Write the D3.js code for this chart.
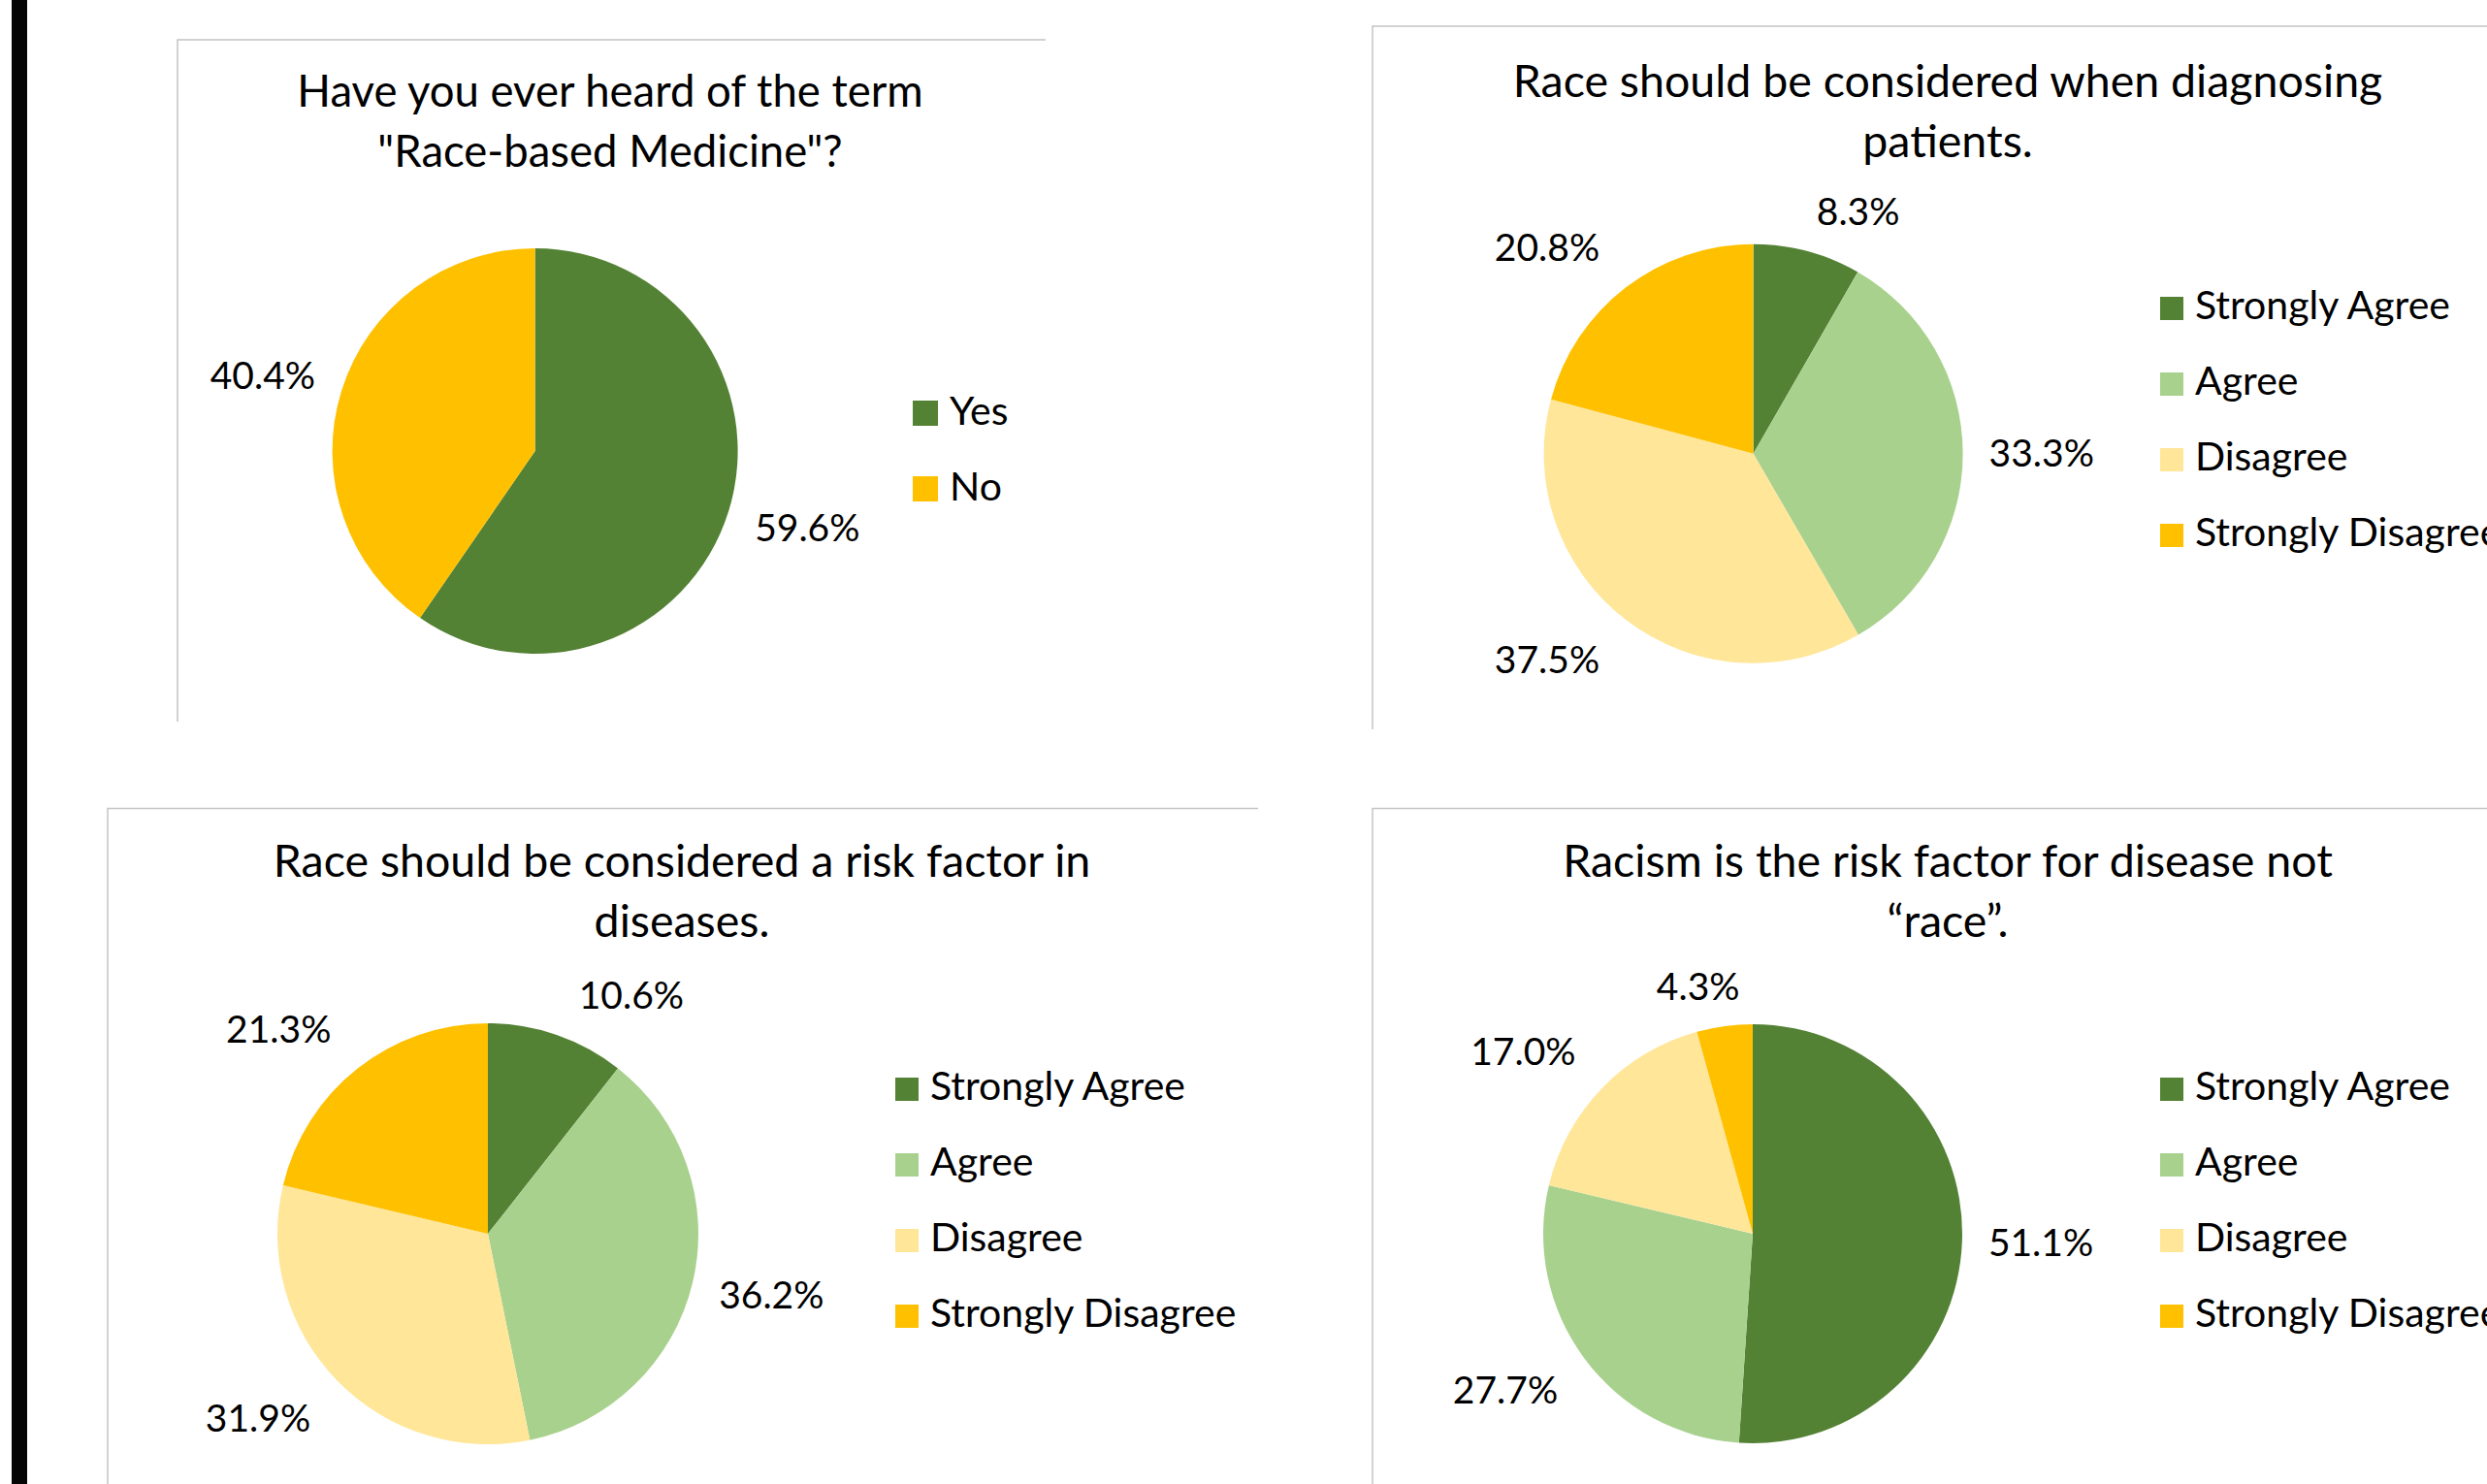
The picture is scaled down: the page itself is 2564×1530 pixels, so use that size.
<!DOCTYPE html>
<html>
<head>
<meta charset="utf-8">
<script src="https://cdn.jsdelivr.net/npm/d3@7"></script>
<style>
  html, body { margin: 0; padding: 0; background: #ffffff; }
  svg { display: block; }
</style>
</head>
<body>
<svg id="chart" width="2564" height="1530"></svg>
<script>
// Survey responses (percent of respondents)
const yesNoCategories = ["Yes", "No"];
const heardTermValues = [59.6, 40.4];

const agreementCategories = ["Strongly Agree", "Agree", "Disagree", "Strongly Disagree"];
const diagnosingValues = [8.3, 33.3, 37.5, 20.8];
const riskFactorValues = [10.6, 36.2, 31.9, 21.3];
const racismValues = [51.1, 27.7, 17.0, 4.3];

const heardTermTitle = ["Have you ever heard of the term", "\"Race-based Medicine\"?"];
const diagnosingTitle = ["Race should be considered when diagnosing", "patients."];
const riskFactorTitle = ["Race should be considered a risk factor in", "diseases."];
const racismTitle = ["Racism is the risk factor for disease not", "\u201Crace\u201D."];

const yesNoColors = ["#548235", "#FFC000"];
const agreementColors = ["#548235", "#A9D18E", "#FFE699", "#FFC000"];

// Page layout for the four charts
const W = 2564, H = 1530;
const FONT = "Lato, 'Open Sans', sans-serif";
const labelSize = 39, legendSize = 41, titleLineGap = 62;

const panels = [
  { title: heardTermTitle, categories: yesNoCategories, values: heardTermValues, colors: yesNoColors,
    frame: { x: 183, y: 41, right: 1078, bottom: 744 },
    titleSize: 45.5, titleX: 629, titleY: 110, cx: 551.6, cy: 465, r: 209,
    legendX: 941, legendY: 413, swatch: 26 },
  { title: diagnosingTitle, categories: agreementCategories, values: diagnosingValues, colors: agreementColors,
    frame: { x: 1415, y: 27, right: W, bottom: 752 },
    titleSize: 46.5, titleX: 2008, titleY: 100, cx: 1807.6, cy: 467.7, r: 216,
    legendX: 2227, legendY: 306, swatch: 24 },
  { title: riskFactorTitle, categories: agreementCategories, values: riskFactorValues, colors: agreementColors,
    frame: { x: 111, y: 833.5, right: 1297, bottom: H },
    titleSize: 46.5, titleX: 703, titleY: 904, cx: 503, cy: 1272, r: 217,
    legendX: 923, legendY: 1111, swatch: 24 },
  { title: racismTitle, categories: agreementCategories, values: racismValues, colors: agreementColors,
    frame: { x: 1415, y: 833.5, right: W, bottom: H },
    titleSize: 46.5, titleX: 2008, titleY: 904, cx: 1807, cy: 1272, r: 216,
    legendX: 2227, legendY: 1111, swatch: 24 }
];

const svg = d3.select("#chart");
svg.append("rect").attr("width", W).attr("height", H).attr("fill", "#ffffff");

// Dark bar along the left edge of the page
svg.append("rect").attr("x", 12).attr("y", 0).attr("width", 16).attr("height", H).attr("fill", "#050505");

const pie = d3.pie().sort(null).value(d => d.value);
const clamp = v => Math.max(-1, Math.min(1, v));

panels.forEach(p => {
  const g = svg.append("g");

  // Chart area outline (top and left edges)
  g.append("path")
    .attr("d", `M${p.frame.x},${p.frame.bottom}V${p.frame.y}H${p.frame.right}`)
    .attr("fill", "none").attr("stroke", "#c4c4c4").attr("stroke-width", 1.5);

  // Two-line title
  const title = g.append("text")
    .attr("x", p.titleX).attr("y", p.titleY)
    .attr("text-anchor", "middle")
    .attr("font-family", FONT).attr("font-size", p.titleSize).attr("fill", "#000");
  p.title.forEach((line, i) => {
    title.append("tspan").attr("x", p.titleX).attr("dy", i === 0 ? 0 : titleLineGap).text(line);
  });

  const data = p.categories.map((c, i) => ({ category: c, value: p.values[i], color: p.colors[i] }));
  const arcs = pie(data);
  const arc = d3.arc().innerRadius(0).outerRadius(p.r);

  const pg = g.append("g").attr("transform", `translate(${p.cx},${p.cy})`);
  pg.selectAll("path.slice").data(arcs).join("path")
    .attr("class", "slice")
    .attr("d", arc)
    .attr("fill", d => d.data.color);

  // Percentage labels placed just outside each slice, pushed away from the rim
  pg.selectAll("text.pct").data(arcs).join("text")
    .attr("class", "pct")
    .attr("text-anchor", "middle")
    .attr("font-family", FONT).attr("font-size", labelSize).attr("fill", "#000")
    .text(d => d.data.value.toFixed(1) + "%")
    .each(function (d) {
      const a = (d.startAngle + d.endAngle) / 2;
      const ux = Math.sin(a), uy = -Math.cos(a);
      const halfW = this.getComputedTextLength() / 2;
      const x = p.r * ux + (halfW + 27) * clamp(2.9 * ux);
      const y = p.r * uy + 41 * clamp(1.35 * uy);
      d3.select(this).attr("x", x).attr("y", y).attr("dy", "0.36em");
    });

  // Legend
  const lg = g.append("g").attr("transform", `translate(${p.legendX},${p.legendY})`);
  const rows = lg.selectAll("g.row").data(data).join("g")
    .attr("class", "row")
    .attr("transform", (d, i) => `translate(0,${i * 78})`);
  rows.append("rect").attr("width", p.swatch).attr("height", p.swatch).attr("fill", d => d.color);
  rows.append("text")
    .attr("x", p.swatch + 12).attr("y", p.swatch - 1)
    .attr("font-family", FONT).attr("font-size", legendSize).attr("fill", "#000")
    .text(d => d.category);
});
</script>
</body>
</html>
